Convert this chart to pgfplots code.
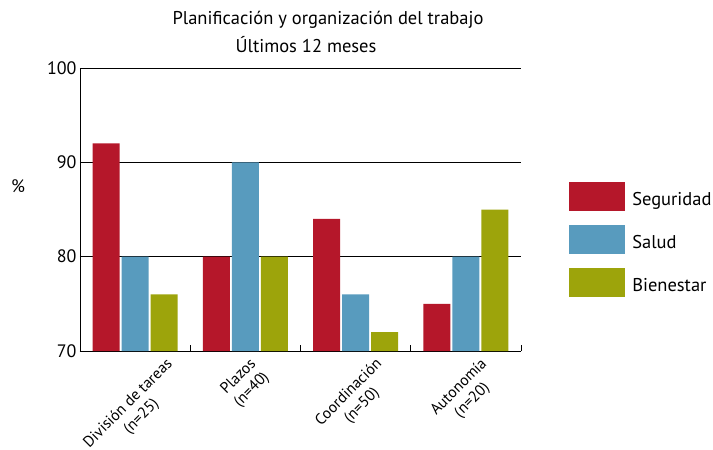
\documentclass[border=0pt]{standalone}
\usepackage{fontspec}
\setmainfont{PT Sans}
\usepackage{pgfplots}
\pgfplotsset{compat=1.18}
\definecolor{seg}{HTML}{B5172A}
\definecolor{sal}{HTML}{589BBE}
\definecolor{bie}{HTML}{9DA40B}
\newcommand{\catlab}[2]{\rotatebox{45}{\begin{tabular}{@{}c@{}}#1\\#2\end{tabular}}}

\begin{document}
\begin{tikzpicture}[x=1pt,y=1pt]
\useasboundingbox (-80,-99) rectangle (633,351);
\begin{axis}[
    at={(0,0)}, anchor=south west,
    scale only axis, width=441pt, height=283pt,
    ybar=2pt, bar width=27pt,
    xmin=-0.5, xmax=3.5, ymin=70, ymax=100,
    ytick={70,80,90,100},
    xtick={0,1,2,3},
    xticklabels={
        {\catlab{División de tareas}{(n=25)}},
        {\catlab{Plazos}{(n=40)}},
        {\catlab{Coordinación}{(n=50)}},
        {\catlab{Autonomía}{(n=20)}}},
    minor xtick={-0.5,0.5,1.5,2.5,3.5},
    major x tick style={draw=none},
    minor x tick style={black, line width=0.8pt},
    minor tick length=6pt,
    tick align=inside,
    ytick style={draw=none},
    axis x line*=bottom, axis y line*=left,
    axis line style={black, line width=0.8pt, -},
    ymajorgrids, grid style={black, line width=0.7pt},
    xticklabel style={anchor=north, font=\fontsize{15.5}{18.5}\selectfont, yshift=-1pt},
    yticklabel style={font=\fontsize{18}{18}\selectfont},
    /pgf/number format/assume math mode=true,
    legend style={at={(1.109,0.597)}, anchor=north west, draw=none, fill=none,
        inner sep=0pt, row sep=14pt, font=\fontsize{18.5}{18.5}\selectfont,
        /tikz/every odd column/.append style={column sep=5pt}},
    legend cell align=left,
    legend image code/.code={\fill[#1] (0pt,-12pt) rectangle (56pt,17pt);},
]
\addplot[fill=seg, draw=none] coordinates {(0,92) (1,80) (2,84) (3,75)};
\addplot[fill=sal, draw=none] coordinates {(0,80) (1,90) (2,76) (3,80)};
\addplot[fill=bie, draw=none] coordinates {(0,76) (1,80) (2,72) (3,85)};
\legend{Seguridad, Salud, Bienestar}
\end{axis}
\node[font=\fontsize{18.5}{18.5}\selectfont] at (248,331) {Planificación y organización del trabajo};
\node[font=\fontsize{18.5}{18.5}\selectfont] at (226,306) {Últimos 12 meses};
\node[font=\fontsize{18}{18}\selectfont] at (-62,165) {\%};
\end{tikzpicture}
\end{document}
